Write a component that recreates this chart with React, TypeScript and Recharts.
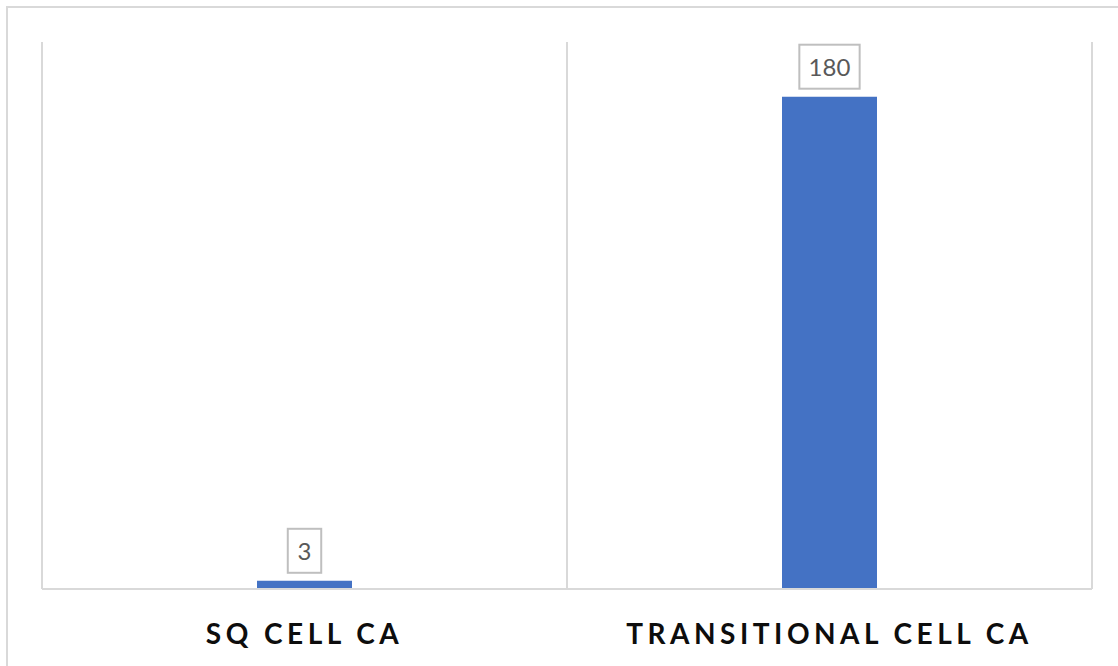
import React from 'react';
import { BarChart, Bar, XAxis, YAxis, CartesianGrid, LabelList } from 'recharts';

const categories = ['SQ CELL CA', 'TRANSITIONAL CELL CA'];
const counts = [3, 180];
const yDomain = [0, 200];

const data = categories.map((c, i) => ({ name: c, value: counts[i] }));

const FONT = 'Lato, "Open Sans", sans-serif';

const BoxLabel = (props: any) => {
  const { x, y, width, value } = props;
  const text = String(value);
  const fs = 24;
  const tw = text.length * fs * 0.56;
  const bw = tw + 20;
  const bh = 44;
  const cx = x + width / 2;
  const bottom = y - 8;
  return (
    <g>
      <rect x={cx - bw / 2} y={bottom - bh} width={bw} height={bh} fill="#fff" stroke="#bfbfbf" strokeWidth={2} />
      <text x={cx} y={bottom - bh / 2} textAnchor="middle" dominantBaseline="central" fontSize={fs} fill="#595959" fontFamily={FONT}>
        {text}
      </text>
    </g>
  );
};

const CatTick = (props: any) => {
  const { x, y, payload } = props;
  return (
    <text x={x} y={y} dy={55} textAnchor="middle" fontSize={28} fontWeight="bold" letterSpacing={4.5} fill="#0d0d0d" fontFamily={FONT}>
      {payload.value}
    </text>
  );
};

export default function App() {
  return (
    <div style={{ position: 'fixed', left: 0, top: 0, width: 1118, height: 666, background: '#fff', overflow: 'hidden' }}>
      <div style={{ position: 'absolute', left: 6, top: 6, width: 1140, height: 700, border: '2px solid #d9d9d9', boxSizing: 'border-box' }} />
      <div style={{ position: 'absolute', left: 0, top: 0 }}>
        <BarChart width={1118} height={666} data={data} margin={{ top: 42, right: 26, bottom: 0, left: 42 }}>
          <CartesianGrid
            horizontal={false}
            stroke="#d9d9d9"
            strokeWidth={2}
            verticalCoordinatesGenerator={({ offset }: any) => [
              offset.left,
              offset.left + offset.width / 2,
              offset.left + offset.width,
            ]}
          />
          <XAxis
            dataKey="name"
            height={77}
            axisLine={{ stroke: '#d9d9d9', strokeWidth: 2 }}
            tickLine={false}
            tickSize={0}
            tickMargin={0}
            tick={<CatTick />}
            interval={0}
          />
          <YAxis hide domain={yDomain} />
          <Bar dataKey="value" fill="#4472c4" barSize={95} isAnimationActive={false}>
            <LabelList dataKey="value" content={<BoxLabel />} />
          </Bar>
        </BarChart>
      </div>
    </div>
  );
}
